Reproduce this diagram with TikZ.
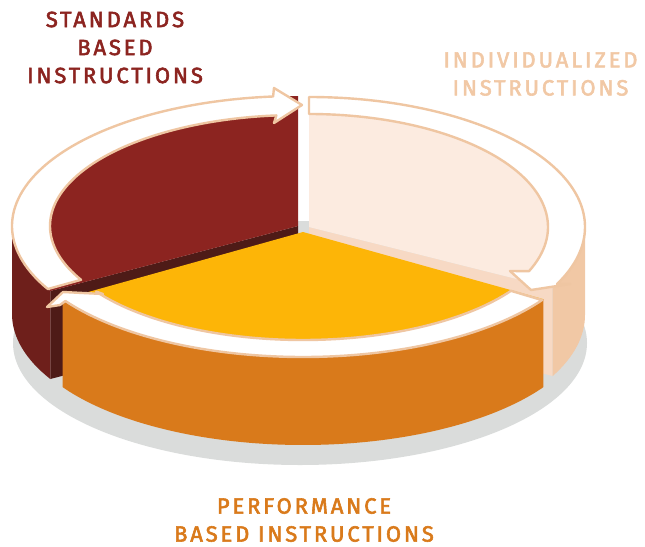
\documentclass[tikz,border=0pt]{standalone}
\usepackage{fontspec}
\setmainfont{Fira Sans}[LetterSpace=13, FakeBold=2.6]
\usetikzlibrary{calc}
\definecolor{maroontop}{RGB}{140,36,32}
\definecolor{maroonside}{RGB}{110,31,27}
\definecolor{maroonedge}{RGB}{78,27,23}
\definecolor{peachtop}{RGB}{252,235,224}
\definecolor{peachside}{RGB}{241,200,165}
\definecolor{peachedge}{RGB}{247,217,196}
\definecolor{peachline}{RGB}{239,198,162}
\definecolor{yellowtop}{RGB}{253,181,7}
\definecolor{yellowside}{RGB}{217,122,27}
\definecolor{shadowgray}{RGB}{218,220,219}

\begin{document}
\begin{tikzpicture}[
        x=1pt, y=1pt,
        band/.style={fill=white, draw=peachline, line width=2.4pt, line join=round},
        heading/.style={font=\fontsize{22}{28}\selectfont, align=center, inner sep=0pt}
    ]
        \useasboundingbox (0,0) rectangle (645,-546);

        % slice centres
        \coordinate (mc) at (298,-226);
        \coordinate (pc) at (309,-227);
        \coordinate (yc) at (303,-232);

        % Shadow
        \fill[shadowgray] (300,-343) ellipse [x radius=287, y radius=122];

        % Standards slice
        \fill[maroonedge] (mc) -- ($(mc)+(210:286 and 130)$) -- ++(0,-88) -- ($(mc)+(0,-88)$) -- cycle;
        \fill[maroonside] ($(mc)+(180:286 and 130)$) arc[start angle=180, end angle=210, x radius=286, y radius=130]
            -- ++(0,-88) arc[start angle=210, end angle=180, x radius=286, y radius=130] -- cycle;
        \fill[maroontop] (mc) -- ++(90:286 and 130) arc[start angle=90, end angle=210, x radius=286, y radius=130] -- cycle;

        % Individualized slice
        \fill[peachedge] (pc) -- ($(pc)+(-28:276 and 130)$) -- ++(0,-88) -- ($(pc)+(0,-88)$) -- cycle;
        \fill[peachside] ($(pc)+(-28:276 and 130)$) arc[start angle=-28, end angle=0, x radius=276, y radius=130]
            -- ++(0,-88) arc[start angle=0, end angle=-28, x radius=276, y radius=130] -- cycle;
        \fill[peachtop] (pc) -- ++(-28:276 and 130) arc[start angle=-28, end angle=90, x radius=276, y radius=130] -- cycle;

        % Performance slice
        \fill[yellowside] ($(yc)+(212.5:285 and 125)$) arc[start angle=212.5, end angle=327.5, x radius=285, y radius=125]
            -- ++(0,-88) arc[start angle=327.5, end angle=212.5, x radius=285, y radius=125] -- cycle;
        \fill[yellowtop] (yc) -- ++(212.5:285 and 125) arc[start angle=212.5, end angle=327.5, x radius=285, y radius=125] -- cycle;

        % Cycle arrows
        \draw[band] ($(yc)+(327:285 and 125)$) arc[start angle=327, end angle=213.5, x radius=285, y radius=125]
            -- (60,-305) -- (47,-307) -- (63,-292) -- (103,-294)
            -- ($(yc)+(213.5:248 and 108)$) arc[start angle=213.5, end angle=327, x radius=248, y radius=108] -- cycle;
        \draw[band] ($(mc)+(209:286 and 130)$) arc[start angle=209, end angle=95, x radius=286, y radius=130]
            -- (274,-88) -- (302,-105) -- (274,-123)
            -- ($(mc)+(95:248 and 111)$) arc[start angle=95, end angle=209, x radius=248, y radius=111] -- cycle;
        \draw[band] ($(pc)+(90:276 and 130)$) arc[start angle=90, end angle=-26, x radius=276, y radius=130]
            -- (570,-284) -- (531,-290) -- (510,-271)
            -- ($(pc)+(-23:239 and 113)$) arc[start angle=-23, end angle=90, x radius=239, y radius=113] -- cycle;

        % Labels
        \node[heading, text=maroontop] (std) at (115,-47.5) {STANDARDS\\BASED\\INSTRUCTIONS};
        \node[heading, text=peachside] (ind) at (540.5,-74) {INDIVIDUALIZED\\INSTRUCTIONS};
        \node[heading, text=yellowside] (perf) at (304,-520) {PERFORMANCE\\BASED INSTRUCTIONS};
    \end{tikzpicture}
\end{document}
